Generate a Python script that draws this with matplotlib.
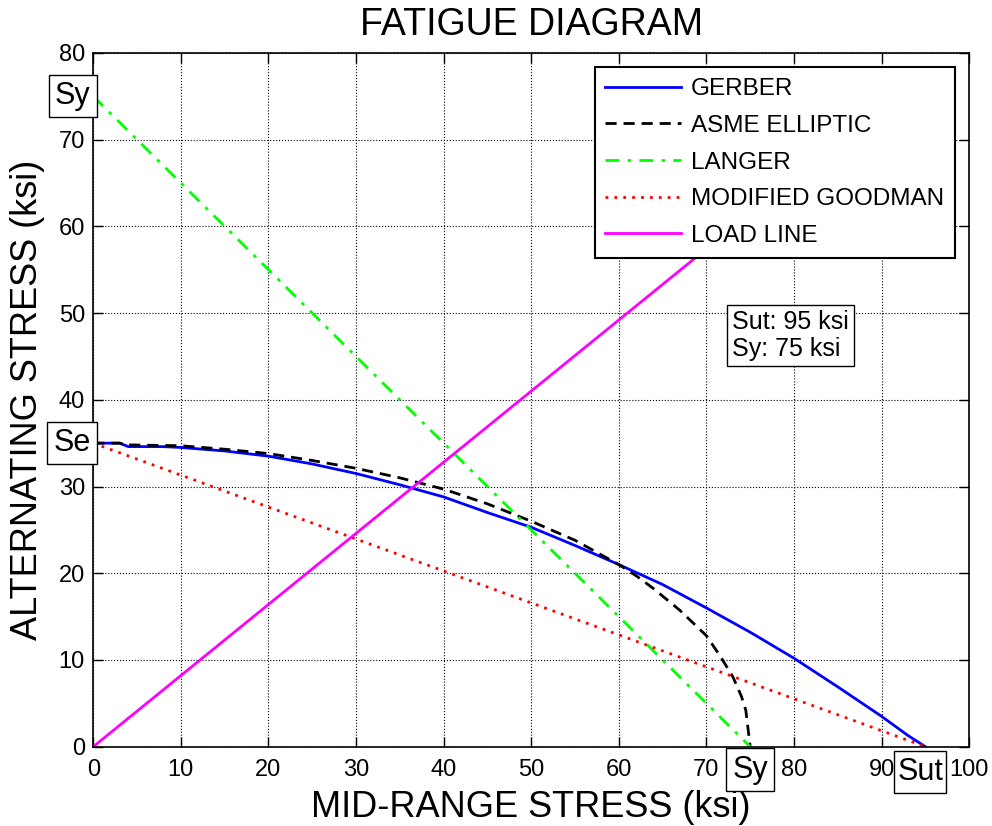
import matplotlib
matplotlib.use('Agg')
import matplotlib.pyplot as plt
from matplotlib.patches import Rectangle

plt.rcParams['font.family'] = ['Liberation Sans', 'DejaVu Sans']

# material values (ksi)
sut = 95
sy = 75
se = 35

gerber_x = [0, 3, 4, 8, 10, 15, 20, 25, 30, 35, 40, 45, 50, 55, 60, 65, 70, 75, 80, 85, 90, 93, 95]
gerber_y = [35, 35, 34.6, 34.6, 34.5, 34.1, 33.5, 32.6, 31.5, 30.2, 28.8, 27.0, 25.3, 23.2,
            21.0, 18.7, 16.0, 13.2, 10.2, 6.9, 3.5, 1.3, 0]

asme_x = [0, 3, 4, 10, 15, 20, 25, 30, 35, 40, 45, 50, 55, 60, 62, 64, 67, 70, 71.6, 73, 74, 74.5, 75]
asme_y = [35, 35, 34.8, 34.7, 34.3, 33.8, 33.0, 32.1, 31.0, 29.7, 28.0, 26.0, 23.8, 21.0,
          19.7, 18.2, 15.7, 12.8, 10.4, 8.1, 5.8, 4.2, 0]

langer_x = [0, 75]
langer_y = [75, 0]

goodman_x = [0, 95]
goodman_y = [35, 0]

load_x = [0, 85]
load_y = [0, 69.7]

fig = plt.figure(figsize=(9.92, 8.26), dpi=100)
ax = fig.add_axes([0.094, 0.096, 0.883, 0.840])

ax.plot(gerber_x, gerber_y, color='#0000ff', lw=2, label='GERBER')
ax.plot(asme_x, asme_y, color='black', lw=2, ls='--', dashes=(4, 2.5), label='ASME ELLIPTIC')
ax.plot(langer_x, langer_y, color='#00ff00', lw=2, ls='-.', dashes=(5, 3, 1.2, 3), label='LANGER')
ax.plot(goodman_x, goodman_y, color='#ff0000', lw=2, ls=':', dashes=(1, 2.2), label='MODIFIED GOODMAN')
ax.plot(load_x, load_y, color='#ff00ff', lw=2, label='LOAD LINE')

ax.set_xlim(0, 100)
ax.set_ylim(0, 80)
ax.set_xticks(range(0, 101, 10))
ax.set_yticks(range(0, 81, 10))
ax.grid(True, color='black', ls=':', lw=0.8)
ax.tick_params(direction='in', length=7, width=1, top=True, right=True, labelsize=17)
ax.tick_params(axis='x', pad=9)
ax.tick_params(axis='y', pad=6)
for s in ax.spines.values():
    s.set_linewidth(1.2)

ax.set_title('FATIGUE DIAGRAM', fontsize=27, pad=13)
ax.set_xlabel('MID-RANGE STRESS (ksi)', fontsize=26, labelpad=6)
ax.set_ylabel('ALTERNATING STRESS (ksi)', fontsize=26, labelpad=10)

leg = ax.legend(loc='upper right', fontsize=17.5, handlelength=3.1, handletextpad=0.4,
                framealpha=1, fancybox=False, edgecolor='black', borderaxespad=0.6,
                labelspacing=0.6, borderpad=0.45)
leg.get_frame().set_linewidth(1.5)

box = dict(boxstyle='square,pad=0.2', fc='white', ec='black', lw=1)
ax.text(-0.3, sy, 'Sy', fontsize=22, ha='right', va='center', bbox=box, clip_on=False)
ax.text(-0.3, se, 'Se', fontsize=22, ha='right', va='center', bbox=box, clip_on=False)
ax.text(sy, -0.9, 'Sy', fontsize=22, ha='center', va='top', bbox=box, clip_on=False)

# "Sut" has no descender, so draw its box by hand to keep the same height
ax.add_patch(Rectangle((sut - 3.6, -5.35), 6.0, 4.85, fc='white', ec='black', lw=1,
                       clip_on=False, zorder=3))
ax.text(sut - 0.6, -2.5, 'Sut', fontsize=22, ha='center', va='center_baseline',
        clip_on=False, zorder=4)

ax.text(72.9, 50.4, 'Sut: %d ksi\nSy: %d ksi' % (sut, sy), fontsize=18, ha='left', va='top',
        linespacing=1.2,
        bbox=dict(boxstyle='square,pad=0.2', fc='white', ec='black', lw=1))

fig.savefig('out.png', dpi=100)
